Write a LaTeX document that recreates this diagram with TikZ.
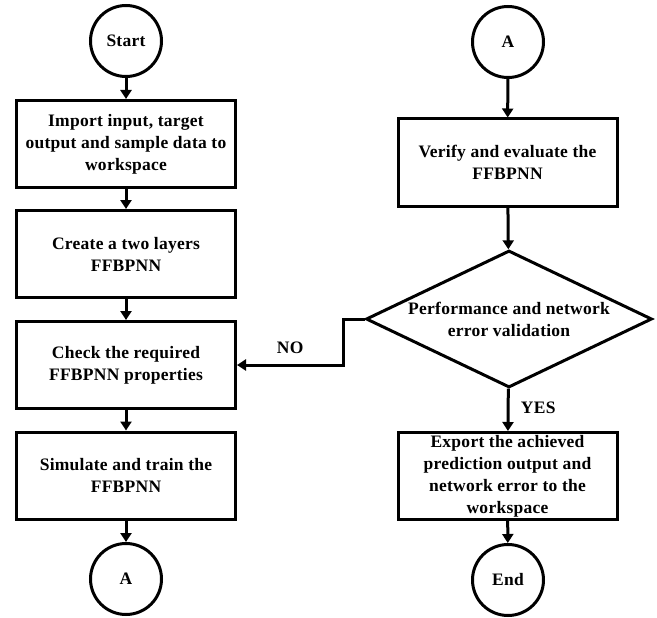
\documentclass[tikz,border=0pt]{standalone}
\usepackage{fontspec}
\setmainfont[LetterSpace=1.5]{Liberation Serif}
\usetikzlibrary{arrows.meta}
\usetikzlibrary{shapes.geometric}
\begin{document}
\begin{tikzpicture}[x=1pt,y=-1pt,
	every node/.style={black,font=\bfseries\fontsize{17.5}{22}\selectfont},
	box/.style={draw,line width=3pt,minimum width=219pt,minimum height=87pt,align=center,inner sep=0pt},
	term/.style={draw,circle,line width=3pt,minimum size=71pt,inner sep=0pt},
	decision/.style={draw,diamond,line width=3pt,aspect=2.07,minimum width=286pt,minimum height=137pt,inner sep=0pt,align=center},
	flow/.style={line width=3pt,-{Triangle[length=9pt,width=11pt]}}]
	\useasboundingbox (0,0) rectangle (657,618);

	\node[term] (start) at (126,41) {Start};
	\node[box] (import) at (126,144) {Import input, target\\output and sample data to\\workspace};
	\node[box] (create) at (126,254) {Create a two layers\\FFBPNN};
	\node[box] (check) at (126,365) {Check the required\\FFBPNN properties};
	\node[box] (train) at (126,475.5) {Simulate and train the\\FFBPNN};
	\node[term] (linkA) at (126,579) {A};

	\node[term] (linkB) at (508,42) {A};
	\node[box] (verify) at (507.5,162.5) {Verify and evaluate the\\FFBPNN};
	\node[decision] (valid) at (509,319) {Performance and network\\error validation};
	\node[box] (export) at (507.5,476) {Export the achieved\\prediction output and\\network error to the\\workspace};
	\node[term] (stop) at (508,580) {End};

	\draw[flow] (start) -- (import);
	\draw[flow] (import) -- (create);
	\draw[flow] (create) -- (check);
	\draw[flow] (check) -- (train);
	\draw[flow] (train) -- (linkA);

	\draw[flow] (linkB) -- (verify);
	\draw[flow] (verify) -- (valid);
	\draw[flow] (valid) -- (export) node[pos=0.45,right=8pt] {YES};
	\draw[flow] (export) -- (stop);
	\draw[flow] (valid.west) -- ++(-21,0) |- (check.east) node[pos=0.75,above=6pt] {NO};
\end{tikzpicture}
\end{document}
